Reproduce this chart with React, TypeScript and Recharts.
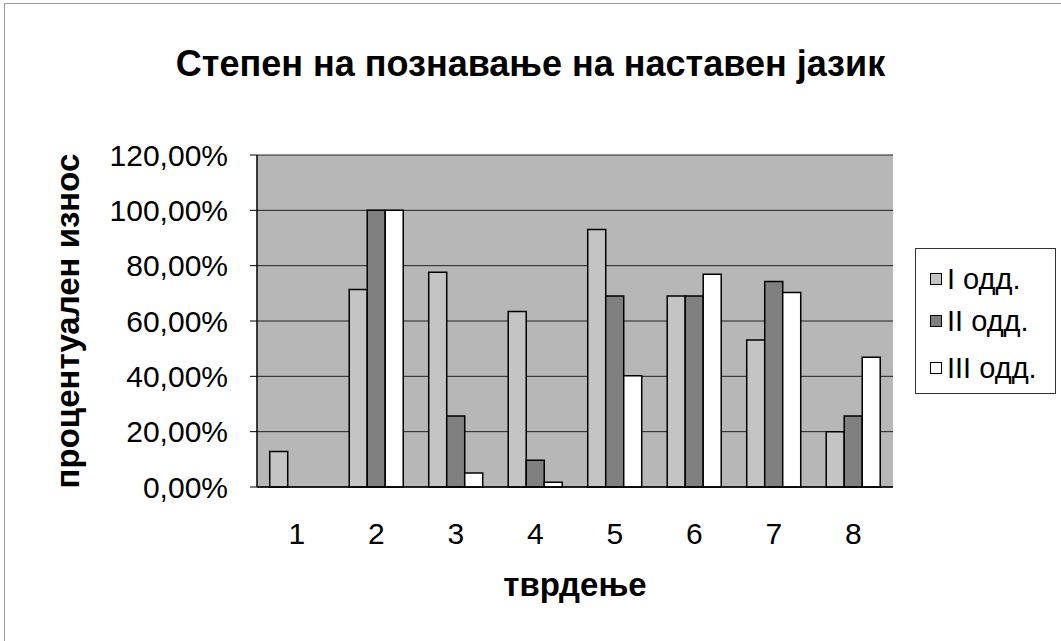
import React from 'react';
import { BarChart, Bar, XAxis, YAxis, CartesianGrid } from 'recharts';

const categories = ['1', '2', '3', '4', '5', '6', '7', '8'];
const seriesI = [12.8, 71.4, 77.6, 63.4, 93.1, 69.0, 53.1, 20.0];
const seriesII = [0, 100, 25.7, 9.7, 69.0, 69.0, 74.3, 25.7];
const seriesIII = [0, 100, 5.1, 1.7, 40.2, 76.9, 70.3, 46.9];
const seriesNames = ['I одд.', 'II одд.', 'III одд.'];
const seriesColors = ['#c4c4c4', '#808080', '#ffffff'];
const yTicks = [0, 20, 40, 60, 80, 100, 120];
const boundaryTicks = [0, 1, 2, 3, 4, 5, 6, 7, 8];

const title = 'Степен на познавање на наставен јазик';
const yLabel = 'процентуален износ';
const xLabel = 'тврдење';

const data = categories.map((c, i) => ({
  cat: c,
  s1: seriesI[i],
  s2: seriesII[i],
  s3: seriesIII[i],
}));

const FONT = "Arial, 'Liberation Sans', sans-serif";

export default function App() {
  const keys = ['s1', 's2', 's3'];
  return (
    <div style={{ position: 'absolute', left: 0, top: 0, width: 1061, height: 641, background: '#fff', fontFamily: FONT, overflow: 'hidden' }}>
      <div style={{ position: 'absolute', left: 4, top: 3, width: 1060, height: 640, borderTop: '1px solid #999', borderLeft: '1px solid #999' }} />
      <div style={{ position: 'absolute', left: 0, top: 43, width: 1061, textAlign: 'center', fontSize: 36, lineHeight: '42px', fontWeight: 'bold', color: '#000' }}>
        {title}
      </div>
      <BarChart
        width={1061}
        height={641}
        data={data}
        margin={{ top: 155, right: 168, bottom: 34, left: 0 }}
        barCategoryGap="16%"
        barGap={0}
      >
        <CartesianGrid vertical={false} stroke="#222" strokeWidth={1} fill="#b7b7b7" xAxisId="c" />
        <XAxis
          xAxisId="b"
          type="number"
          domain={[0, 8]}
          ticks={boundaryTicks}
          tickFormatter={() => ''}
          height={0}
          axisLine={false}
          tickLine={{ stroke: '#000', strokeWidth: 1 }}
          tickSize={6}
          allowDataOverflow
        />
        <XAxis
          xAxisId="c"
          dataKey="cat"
          height={120}
          tickSize={0}
          tickLine={false}
          tickMargin={36}
          axisLine={{ stroke: '#000', strokeWidth: 1.5 }}
          tick={{ fill: '#000', fontSize: 30, fontFamily: FONT }}
          label={{ value: xLabel, position: 'insideBottom', offset: 11, fill: '#000', fontSize: 33, fontWeight: 'bold', fontFamily: FONT }}
        />
        <YAxis
          width={257}
          domain={[0, 120]}
          ticks={yTicks}
          interval={0}
          tickFormatter={(v: number) => `${v},00%`}
          tickSize={7}
          tickMargin={22}
          axisLine={{ stroke: '#000', strokeWidth: 1.5 }}
          tickLine={{ stroke: '#000' }}
          tick={{ fill: '#000', fontSize: 30, fontFamily: FONT }}
          label={{ value: yLabel, angle: -90, position: 'insideLeft', offset: 67, fill: '#000', fontSize: 33, fontWeight: 'bold', fontFamily: FONT, style: { textAnchor: 'middle' } }}
        />
        {keys.map((k, i) => (
          <Bar key={k} xAxisId="c" dataKey={k} name={seriesNames[i]} fill={seriesColors[i]} stroke="#000" strokeWidth={1.5} isAnimationActive={false} />
        ))}
      </BarChart>
      <div style={{ position: 'absolute', left: 915, top: 248, width: 141, height: 146, border: '1px solid #333', boxSizing: 'border-box', background: '#fff' }}>
        {seriesNames.map((n, i) => (
          <div key={n} style={{ position: 'absolute', left: 14, top: [13, 55, 102][i], height: 34, display: 'flex', alignItems: 'center', fontSize: 29, whiteSpace: 'nowrap', color: '#000' }}>
            <span style={{ display: 'inline-block', width: 10, height: 10, background: seriesColors[i], border: '1.5px solid #000', marginRight: 5 }} />
            <span>{n}</span>
          </div>
        ))}
      </div>
    </div>
  );
}
